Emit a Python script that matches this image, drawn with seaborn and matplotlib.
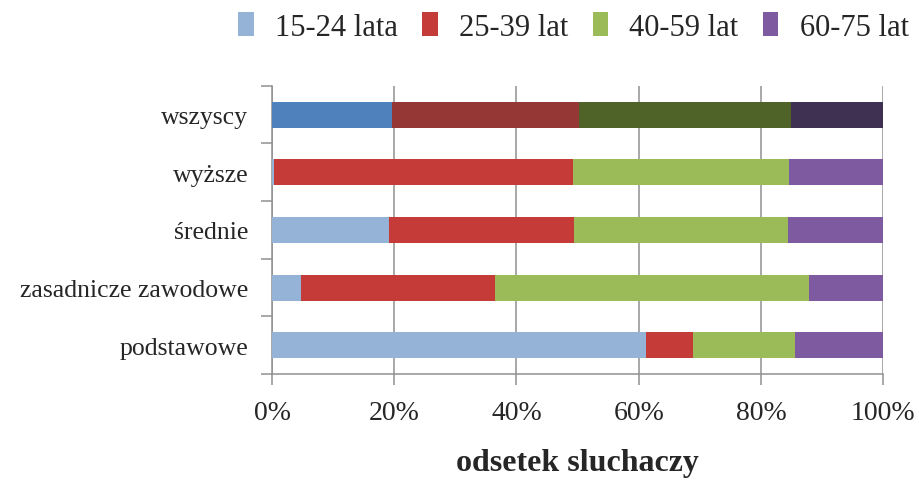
import matplotlib
matplotlib.use("Agg")
import matplotlib.pyplot as plt
from matplotlib.patches import Patch
from matplotlib.ticker import FixedLocator, PercentFormatter
import numpy as np
import seaborn as sns

# data (percent of listeners)
categories = ["wszyscy", "wyższe", "średnie", "zasadnicze zawodowe", "podstawowe"]
groups = ["15-24 lata", "25-39 lat", "40-59 lat", "60-75 lat"]
age_15_24 = [19.6, 0.3, 19.2, 4.7, 61.2]
age_25_39 = [30.7, 48.9, 30.2, 31.8, 7.7]
age_40_59 = [34.7, 35.4, 35.1, 51.3, 16.7]
age_60_75 = [15.0, 15.4, 15.5, 12.2, 14.4]

light = ["#95B3D7", "#C43B38", "#9BBB59", "#7E5AA0"]
dark = ["#4F81BD", "#953735", "#4F6228", "#3F3151"]

sns.set_style("white")
plt.rcParams["font.family"] = ["Liberation Serif", "DejaVu Serif"]

fig = plt.figure(figsize=(9.19, 4.81), dpi=100)
ax = fig.add_axes([0.296, 0.2204, 0.665, 0.599])

series = [age_15_24, age_25_39, age_40_59, age_60_75]
cum = np.cumsum(np.array(series), axis=0)

# draw from the full stack down so each segment covers the rest
for i in range(3, -1, -1):
    pal = [dark[i]] + [light[i]] * 4
    sns.barplot(x=cum[i], y=categories, hue=categories, palette=pal,
                order=categories, hue_order=categories, legend=False,
                width=0.45, linewidth=0, saturation=1, ax=ax, zorder=3)

ax.set_xlim(0, 100)
ax.set_ylim(4.5, -0.5)
ax.xaxis.set_major_locator(FixedLocator([0, 20, 40, 60, 80, 100]))
ax.xaxis.set_major_formatter(PercentFormatter(decimals=0))
ax.grid(axis="x", color="#919191", linewidth=1.1, zorder=0)
ax.set_axisbelow(True)

ax.yaxis.set_minor_locator(FixedLocator(np.arange(-0.5, 5, 1)))
ax.tick_params(axis="y", which="major", length=0, pad=17, labelsize=18.5)
ax.tick_params(axis="y", which="minor", length=8, color="#919191", width=1.1, left=True)
ax.tick_params(axis="x", which="major", length=8, color="#919191", width=1.1,
               bottom=True, pad=11, labelsize=20)

for s in ["top", "right"]:
    ax.spines[s].set_visible(False)
for s in ["left", "bottom"]:
    ax.spines[s].set_color("#919191")
    ax.spines[s].set_linewidth(1.1)

ax.set_ylabel("")
ax.set_xlabel("odsetek sluchaczy", fontsize=23, fontweight="bold", labelpad=16)

handles = [Patch(facecolor=c, edgecolor="none") for c in light]
fig.legend(handles, groups, loc="center", bbox_to_anchor=(0.624, 0.942), ncol=4,
           frameon=False, fontsize=22, handlelength=0.5, handleheight=0.8,
           handletextpad=0.7, columnspacing=0.8)

fig.savefig("out.png", dpi=100)
